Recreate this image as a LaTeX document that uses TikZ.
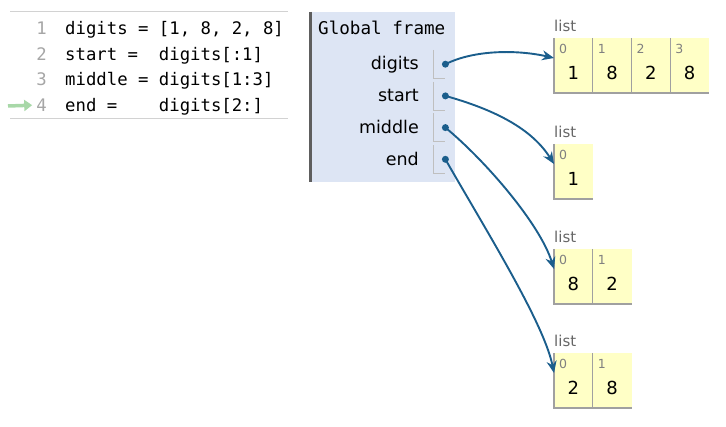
\documentclass[tikz,border=0pt]{standalone}
\usepackage{fontspec}
\setmainfont{DejaVu Sans}
\setmonofont{DejaVu Sans Mono}
\usetikzlibrary{arrows.meta,positioning}
\definecolor{framebg}{HTML}{DDE5F4}
\definecolor{frameedge}{HTML}{5E5E5E}
\definecolor{heapbg}{HTML}{FFFFC6}
\definecolor{heapedge}{HTML}{A0A0A0}
\definecolor{pointer}{HTML}{1B5E8C}
\definecolor{curline}{HTML}{A8D8A8}
\tikzset{
  codeline/.style={anchor=base west, inner sep=0pt, font=\ttfamily\fontsize{17.3}{20}\selectfont},
  lineno/.style={anchor=base east, inner sep=0pt, text=gray!70, font=\ttfamily\fontsize{17.3}{20}\selectfont},
  varname/.style={anchor=base east, inner sep=0pt, font=\fontsize{17.5}{20}\selectfont},
  valbox/.style={anchor=north west, minimum width=12pt, minimum height=28pt, inner sep=0pt},
  dot/.style={circle, fill=pointer, inner sep=0pt, minimum size=7pt},
  pointsto/.style={pointer, line width=1.9pt, -{Stealth[length=12pt,width=10pt,inset=4pt]}},
  heaplist/.pic={
    \node[anchor=base west, inner sep=0pt, text=gray!80!black, font=\fontsize{15}{17}\selectfont] (-label) at (0,-6) {list};
    \coordinate (-in) at (0,20);
    \foreach \Val [count=\i from 0] in {#1} {
      \fill[heapbg] (38.75*\i,0) rectangle ++(38.75,55);
      \draw[heapedge, line width=1.2pt] (38.75*\i,0) -- ++(0,55) -- ++(38.75,0);
      \node[anchor=base west, inner sep=0pt, text=gray, font=\fontsize{12.5}{15}\selectfont] (-idx\i) at (38.75*\i+5,16) {\i};
      \node[anchor=base, inner sep=0pt, font=\fontsize{18}{21}\selectfont] (-\i) at (38.75*\i+19.4,42) {\Val};
    }
  }
}

\begin{document}
\begin{tikzpicture}[x=1pt,y=-1pt]
  \useasboundingbox (0,0) rectangle (726,427);
  % code panel
  \draw[gray!35, line width=1pt] (10,12) -- (288,12);
  \draw[gray!35, line width=1pt] (10,119) -- (288,119);
  \foreach \n/\txt in {1/{digits = [1, 8, 2, 8]}, 2/{start =~ digits[:1]}, 3/{middle = digits[1:3]}, 4/{end =~~~ digits[2:]}} {
    \node[lineno] (n\n) at (47, 9.5+25.5*\n) {\n};
    \node[codeline] (c\n) at (65, 9.5+25.5*\n) {\txt};
  }
  \coordinate (cur) at (8,106);
  \draw[curline, line width=3.5pt, -{Triangle[length=8pt,width=11pt]}] (cur) -- ([xshift=-4pt]n4.west);

  % global frame
  \fill[framebg] (309,12) rectangle (455,182);
  \draw[frameedge, line width=3pt] (310.5,12) -- (310.5,182);
  \node[anchor=base west, inner sep=0pt, font=\ttfamily\fontsize{17.6}{21}\selectfont] (gf) at (318,35) {Global frame};
  \foreach \Name [count=\i from 0] in {digits,start,middle,end} {
    \node[valbox] (b-\Name) at (433, 50+31.7*\i) {};
    \draw[gray!50, line width=1pt] (b-\Name.north west) |- (b-\Name.south east);
    \node[varname] (v-\Name) at (419, 70+31.7*\i) {\Name};
    \node[dot] (d-\Name) at (b-\Name.east) {};
  }

  % heap
  \pic (l1) at (554,38) {heaplist={1,8,2,8}};
  \pic (l2) at (554,144) {heaplist={1}};
  \pic (l3) at (554,249) {heaplist={8,2}};
  \pic (l4) at (554,353) {heaplist={2,8}};

  \draw[pointsto] (d-digits.center) .. controls +(30,-15) and +(-35,-8) .. (l1-in);
  \draw[pointsto] (d-start.center) .. controls +(50,14) and +(-22,-35) .. (l2-in);
  \draw[pointsto] (d-middle.center) .. controls +(40,33) and +(-14,-45) .. (l3-in);
  \draw[pointsto] (d-end.center) .. controls +(40,70) and +(-10,-50) .. (l4-in);
\end{tikzpicture}
\end{document}
